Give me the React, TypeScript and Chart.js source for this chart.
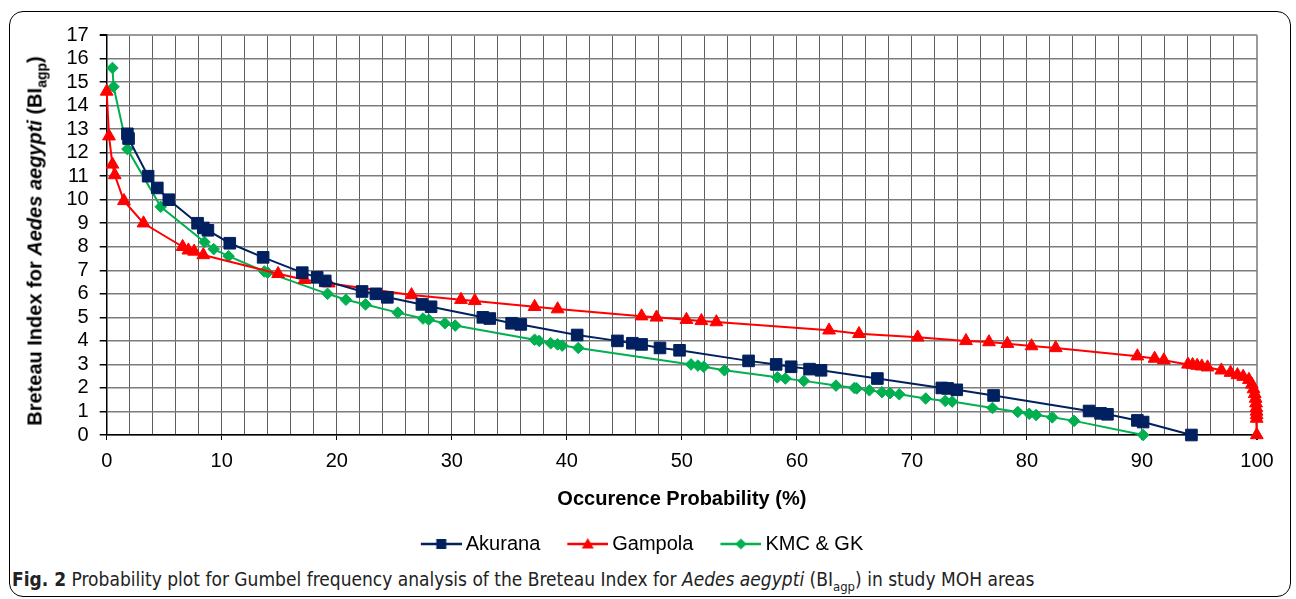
import React, { useEffect, useRef } from 'react';
import { Chart, registerables } from 'chart.js';

Chart.register(...registerables);

// ---- Data ----
const seriesNames = ['Akurana', 'Gampola', 'KMC & GK'];

const akuranaX = [1.8, 1.9, 3.6, 4.4, 5.4, 7.9, 8.4, 8.8, 10.7, 13.6, 17.0, 18.3, 19.0, 22.2, 23.4, 24.4, 27.4, 28.2, 32.7, 33.3, 35.2, 36.0, 40.9, 44.4, 45.7, 46.5, 48.1, 49.8, 55.8, 58.2, 59.5, 61.1, 62.1, 67.0, 72.6, 73.1, 73.9, 77.1, 85.4, 86.4, 87.0, 89.6, 90.1, 94.3];
const akuranaY = [12.8, 12.6, 11.0, 10.5, 10.0, 9.0, 8.8, 8.7, 8.15, 7.55, 6.9, 6.7, 6.55, 6.1, 6.0, 5.85, 5.55, 5.45, 5.0, 4.95, 4.75, 4.7, 4.25, 4.0, 3.9, 3.85, 3.7, 3.6, 3.15, 3.0, 2.9, 2.8, 2.75, 2.4, 2.0, 1.98, 1.92, 1.68, 1.02, 0.92, 0.88, 0.62, 0.55, 0.0];

const gampolaX = [0.0, 0.2, 0.5, 0.7, 1.5, 3.2, 6.6, 7.1, 7.6, 8.4, 14.9, 17.2, 19.3, 26.5, 30.8, 32.0, 37.2, 39.2, 46.5, 47.8, 50.4, 51.7, 53.0, 62.8, 65.4, 70.5, 74.7, 76.7, 78.3, 80.4, 82.5, 89.6, 91.1, 91.9, 94.0, 94.4, 94.8, 95.2, 95.7, 96.9, 97.7, 98.3, 98.8, 99.3, 99.55, 99.7, 99.8, 99.88, 99.92, 99.95, 99.96, 99.97, 99.97, 99.98];
const gampolaY = [14.6, 12.7, 11.5, 11.05, 9.95, 9.0, 8.0, 7.85, 7.8, 7.65, 6.85, 6.6, 6.45, 5.95, 5.75, 5.7, 5.45, 5.35, 5.05, 5.0, 4.9, 4.85, 4.8, 4.45, 4.3, 4.15, 4.0, 3.95, 3.88, 3.78, 3.7, 3.35, 3.25, 3.18, 3.0, 2.98, 2.95, 2.92, 2.88, 2.75, 2.65, 2.55, 2.48, 2.35, 2.15, 1.95, 1.75, 1.55, 1.35, 1.15, 1.0, 0.85, 0.7, 0.0];

const kmcX = [0.5, 0.6, 1.8, 4.7, 8.5, 9.3, 10.6, 13.7, 14.0, 19.2, 20.8, 22.5, 25.3, 27.5, 28.0, 29.4, 30.3, 37.2, 37.6, 38.6, 39.2, 39.6, 41.0, 50.8, 51.4, 51.9, 53.7, 58.3, 59.0, 60.6, 63.4, 65.0, 65.2, 66.3, 67.4, 68.1, 68.9, 71.2, 72.9, 73.5, 77.0, 79.2, 80.2, 80.8, 82.2, 84.1, 90.1];
const kmcY = [15.6, 14.8, 12.15, 9.7, 8.2, 7.9, 7.6, 6.95, 6.9, 6.0, 5.75, 5.55, 5.2, 4.95, 4.9, 4.75, 4.65, 4.05, 4.0, 3.9, 3.85, 3.8, 3.7, 3.0, 2.95, 2.9, 2.75, 2.45, 2.4, 2.3, 2.1, 2.0, 1.98, 1.9, 1.82, 1.78, 1.73, 1.55, 1.45, 1.42, 1.15, 0.98, 0.9, 0.85, 0.75, 0.6, 0.0];

const xTickLabels = [0, 10, 20, 30, 40, 50, 60, 70, 80, 90, 100];
const yTickLabels = [0, 1, 2, 3, 4, 5, 6, 7, 8, 9, 10, 11, 12, 13, 14, 15, 16, 17];

const NAVY = '#002060';
const RED = '#ff0000';
const GREEN = '#00b050';

function toPoints(xs: number[], ys: number[]) {
  return xs.map((x, i) => ({ x, y: ys[i] }));
}

function makeGlyph(color: string, kind: string) {
  const c = document.createElement('canvas');
  c.width = 64;
  c.height = 16;
  const g = c.getContext('2d') as CanvasRenderingContext2D;
  g.strokeStyle = color;
  g.lineWidth = 2.5;
  g.beginPath();
  g.moveTo(23, 8);
  g.lineTo(64, 8);
  g.stroke();
  g.fillStyle = color;
  const cx = 43.5;
  const cy = 8;
  g.beginPath();
  if (kind === 'square') {
    g.rect(cx - 5, cy - 5, 10, 10);
  } else if (kind === 'triangle') {
    g.moveTo(cx, cy - 6);
    g.lineTo(cx + 6, cy + 4.5);
    g.lineTo(cx - 6, cy + 4.5);
    g.closePath();
  } else {
    g.moveTo(cx, cy - 5.5);
    g.lineTo(cx + 5.5, cy);
    g.lineTo(cx, cy + 5.5);
    g.lineTo(cx - 5.5, cy);
    g.closePath();
  }
  g.fill();
  return c;
}

export default function App() {
  const canvasRef = useRef<HTMLCanvasElement | null>(null);

  useEffect(() => {
    const canvas = canvasRef.current;
    if (!canvas) return;
    Chart.defaults.font.family = '"Liberation Sans", Arial, sans-serif';
    Chart.defaults.color = '#000';
    const glyphs = [makeGlyph(NAVY, 'square'), makeGlyph(RED, 'triangle'), makeGlyph(GREEN, 'diamond')];

    const chart = new Chart(canvas, {
      type: 'scatter',
      data: {
        datasets: [
          {
            label: seriesNames[0],
            data: toPoints(akuranaX, akuranaY),
            showLine: true,
            clip: false,
            borderColor: NAVY,
            backgroundColor: NAVY,
            borderWidth: 2,
            pointStyle: 'rect',
            pointRadius: 8.2,
            pointBorderWidth: 1,
            pointBackgroundColor: NAVY,
            pointBorderColor: NAVY,
            tension: 0,
          },
          {
            label: seriesNames[1],
            data: toPoints(gampolaX, gampolaY),
            showLine: true,
            clip: false,
            borderColor: RED,
            backgroundColor: RED,
            borderWidth: 2,
            pointStyle: 'triangle',
            pointRadius: 7.4,
            pointBorderWidth: 1,
            pointBackgroundColor: RED,
            pointBorderColor: RED,
            tension: 0,
          },
          {
            label: seriesNames[2],
            data: toPoints(kmcX, kmcY),
            showLine: true,
            clip: false,
            borderColor: GREEN,
            backgroundColor: GREEN,
            borderWidth: 2,
            pointStyle: 'rectRot',
            pointRadius: 5.8,
            pointBorderWidth: 1,
            pointBackgroundColor: GREEN,
            pointBorderColor: GREEN,
            tension: 0,
          },
        ],
      },
      options: {
        animation: false,
        responsive: false,
        maintainAspectRatio: false,
        events: [],
        layout: { padding: { top: 23, left: 0, right: 31, bottom: 0 } },
        scales: {
          x: {
            type: 'linear',
            min: 0,
            max: 100,
            afterFit: (s: any) => {
              s.height = 89;
            },
            afterBuildTicks: (s: any) => {
              const t = [];
              for (let v = 0; v <= 100; v += 2) t.push({ value: v });
              s.ticks = t;
            },
            ticks: {
              autoSkip: false,
              maxRotation: 0,
              padding: 9,
              font: { size: 20 },
              color: '#000',
              callback: (v: any) => (xTickLabels.includes(Number(v)) ? String(v) : ''),
            },
            grid: {
              color: (ctx: any) => (ctx.tick && ctx.tick.value === 100 ? '#9a9a9a' : '#5e5e5e'),
              lineWidth: (ctx: any) => (ctx.tick && ctx.tick.value === 100 ? 2 : 1),
              tickLength: 5,
              tickColor: (ctx: any) => (ctx.tick && ctx.tick.value % 10 === 0 ? '#000' : 'rgba(0,0,0,0)'),
            },
            border: { color: '#000', width: 1.5 },
            title: {
              display: true,
              text: 'Occurence Probability (%)',
              font: { size: 20, weight: 'bold' },
              color: '#000',
              padding: { top: 0, bottom: 13 },
            },
          },
          y: {
            type: 'linear',
            min: 0,
            max: 17,
            afterFit: (s: any) => {
              s.width = 96.7;
            },
            afterBuildTicks: (s: any) => {
              s.ticks = yTickLabels.map((v) => ({ value: v }));
            },
            ticks: {
              autoSkip: false,
              padding: 11,
              font: { size: 20 },
              color: '#000',
              callback: (v: any) => String(v),
            },
            grid: {
              color: (ctx: any) => (ctx.tick && ctx.tick.value === 17 ? '#9a9a9a' : '#7c7c7c'),
              lineWidth: (ctx: any) => (ctx.tick && ctx.tick.value === 17 ? 2 : 1.5),
              tickLength: 7,
              tickColor: '#000',
            },
            border: { color: '#000', width: 1.5 },
          },
        },
        plugins: {
          tooltip: { enabled: false },
          legend: {
            display: true,
            position: 'bottom',
            labels: {
              usePointStyle: true,
              pointStyleWidth: 52,
              padding: 10,
              font: { size: 20 },
              color: '#000',
              generateLabels: (ch: any) => {
                const items = Chart.defaults.plugins.legend.labels.generateLabels(ch);
                return items.map((it: any, i: number) => ({ ...it, pointStyle: glyphs[i] }));
              },
            },
          },
        },
      },
    } as any);

    return () => {
      chart.destroy();
    };
  }, []);

  return (
    <div style={{ position: 'absolute', left: 0, top: 0, width: 1296, height: 599 }}>
      <div
        style={{
          position: 'absolute',
          left: 9,
          top: 11,
          width: 1282,
          height: 586,
          border: '1px solid #000',
          borderRadius: 14,
          boxSizing: 'border-box',
        }}
      />
      <canvas
        ref={canvasRef}
        width={1278}
        height={552}
        style={{ position: 'absolute', left: 10, top: 12, width: 1278, height: 552 }}
      />
      <div
        style={{
          position: 'absolute',
          left: 38,
          top: 241,
          transform: 'translate(-50%, -50%) rotate(-90deg)',
          whiteSpace: 'nowrap',
          fontFamily: '"Liberation Sans", Arial, sans-serif',
          fontWeight: 'bold',
          fontSize: 20,
          color: '#000',
          lineHeight: '24px',
        }}
      >
        Breteau Index for <i>Aedes aegypti</i> (BI<sub style={{ fontSize: 14 }}>agp</sub>)
      </div>
      <div
        style={{
          position: 'absolute',
          left: 12,
          top: 568,
          whiteSpace: 'nowrap',
          fontFamily: '"DejaVu Sans Condensed", "DejaVu Sans", sans-serif',
          fontStretch: 'condensed',
          fontSize: 19,
          color: '#222',
          lineHeight: '22px',
        }}
      >
        <b>Fig. 2</b> Probability plot for Gumbel frequency analysis of the Breteau Index for <i>Aedes aegypti</i> (BI
        <sub style={{ fontSize: 13 }}>agp</sub>) in study MOH areas
      </div>
    </div>
  );
}
